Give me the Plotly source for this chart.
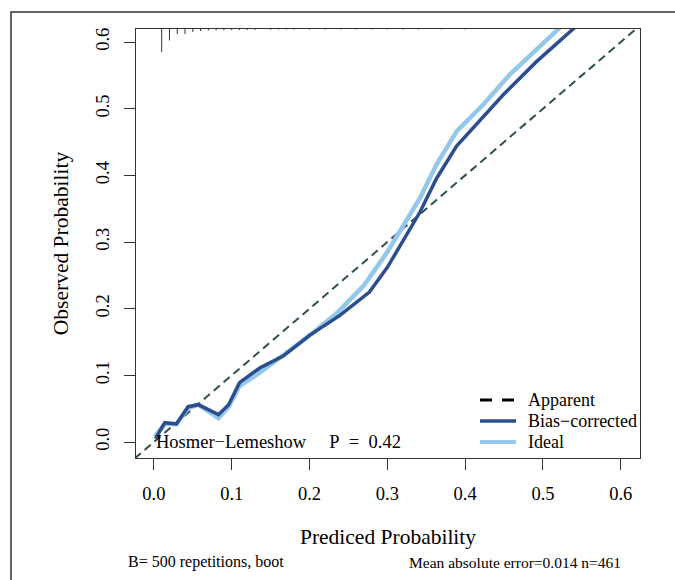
import plotly.graph_objects as go

# ---- data ----
ideal_x = [0.001, 0.014, 0.029, 0.044, 0.057, 0.083, 0.096, 0.11, 0.136, 0.166, 0.196, 0.235, 0.27, 0.30, 0.320, 0.342, 0.363, 0.389, 0.423, 0.458, 0.522, 0.55]
ideal_y = [0.008, 0.027, 0.027, 0.051, 0.056, 0.036, 0.053, 0.084, 0.104, 0.129, 0.156, 0.193, 0.235, 0.285, 0.325, 0.366, 0.416, 0.466, 0.506, 0.552, 0.622, 0.66]

bias_x = [0.002, 0.014, 0.029, 0.044, 0.057, 0.083, 0.096, 0.11, 0.136, 0.166, 0.2, 0.239, 0.277, 0.30, 0.342, 0.363, 0.389, 0.41, 0.449, 0.492, 0.541, 0.57]
bias_y = [0.005, 0.029, 0.027, 0.053, 0.056, 0.041, 0.056, 0.089, 0.111, 0.129, 0.160, 0.190, 0.225, 0.262, 0.345, 0.395, 0.444, 0.471, 0.521, 0.571, 0.622, 0.655]

diag = [-0.05, 0.7]

rug_x = [0.01, 0.02, 0.03, 0.04, 0.05, 0.06, 0.07, 0.08, 0.09, 0.10, 0.11, 0.12, 0.13, 0.15, 0.16, 0.17, 0.18, 0.20, 0.22, 0.24, 0.26, 0.28, 0.30, 0.32, 0.34, 0.37, 0.40]
rug_n = [140, 70, 32, 32, 18, 12, 9, 8, 8, 7, 6, 6, 6, 5, 4, 4, 4, 4, 4, 3, 3, 3, 3, 3, 3, 3, 3]

x_ticks = [0.0, 0.1, 0.2, 0.3, 0.4, 0.5, 0.6]
y_ticks = [0.0, 0.1, 0.2, 0.3, 0.4, 0.5, 0.6]
x_range = [-0.023, 0.6247]
y_range = [-0.024, 0.6196]

legend_labels = ["Apparent", "Bias\u2212corrected", "Ideal"]

FONT = "Liberation Serif"
DARK = "#2C4D8E"
LIGHT = "#93C8EA"
GREEN = "#2F4F4F"
AX = "#333333"
FS = 18.5

fig = go.Figure()

# diagonal
fig.add_trace(go.Scatter(x=diag, y=diag, mode="lines", showlegend=False,
                         line=dict(color=GREEN, width=2, dash="8px,5px"), hoverinfo="skip"))
# ideal (light)
fig.add_trace(go.Scatter(x=ideal_x, y=ideal_y, mode="lines", showlegend=False,
                         line=dict(color=LIGHT, width=4.5)))
# bias-corrected (dark)
fig.add_trace(go.Scatter(x=bias_x, y=bias_y, mode="lines", showlegend=False,
                         line=dict(color=DARK, width=3.5)))

# rug spikes at top
mx = max(rug_n)
max_h = 0.0343
rx, ry = [], []
for xv, n in zip(rug_x, rug_n):
    rx += [xv, xv, None]
    ry += [y_range[1], y_range[1] - max_h * n / mx, None]
fig.add_trace(go.Scatter(x=rx, y=ry, mode="lines", showlegend=False,
                         line=dict(color=AX, width=1), hoverinfo="skip"))

nb = "\u00a0"
fig.add_annotation(x=0.0, y=0.0, xref="x", yref="y", xanchor="left", yanchor="middle",
                   text="Hosmer\u2212Lemeshow" + nb * 5 + "P" + nb * 2 + "=" + nb * 2 + "0.42",
                   showarrow=False, font=dict(family=FONT, size=FS, color="black"))

fig.add_annotation(x=0.139, y=-0.2425, xref="paper", yref="paper", xanchor="center", yanchor="middle",
                   text="B= 500 repetitions, boot", showarrow=False,
                   font=dict(family=FONT, size=16, color="black"))
fig.add_annotation(x=0.751, y=-0.2425, xref="paper", yref="paper", xanchor="center", yanchor="middle",
                   text="Mean absolute error=0.014 n=461", showarrow=False,
                   font=dict(family=FONT, size=15.5, color="black"))

# manual legend
leg_styles = [dict(color="black", width=3, dash="12px,10px"),
              dict(color=DARK, width=3.5),
              dict(color=LIGHT, width=4)]
leg_y = [0.1352, 0.0862, 0.0373]
for lab, st, yy in zip(legend_labels, leg_styles, leg_y):
    fig.add_shape(type="line", xref="paper", yref="paper", x0=0.6825, x1=0.754, y0=yy, y1=yy, line=st)
    fig.add_annotation(x=0.7738, y=yy, xref="paper", yref="paper", xanchor="left", yanchor="middle",
                       text=lab, showarrow=False, font=dict(family=FONT, size=18, color="black"))

# outer frame
fig.add_shape(type="rect", xref="paper", yref="paper", x0=-0.248, y0=-0.6, x1=1.3, y1=1.0396,
              line=dict(color=AX, width=1.5), layer="below")

fig.update_layout(
    width=675, height=580,
    margin=dict(l=136, r=35, t=29, b=122),
    paper_bgcolor="white", plot_bgcolor="white",
    font=dict(family=FONT, size=FS, color="black"),
    showlegend=False,
    xaxis=dict(range=x_range, tickvals=x_ticks, ticktext=[f"{v:.1f}" for v in x_ticks],
               showgrid=False, zeroline=False, showline=True, linecolor=AX, linewidth=1,
               mirror=True, ticks="outside", ticklen=11, tickcolor=AX, tickwidth=1,
               ticklabelstandoff=8, tickfont=dict(family=FONT, size=FS),
               title=dict(text="Prediced Probability", font=dict(family=FONT, size=21.5), standoff=25)),
    yaxis=dict(range=y_range, tickvals=y_ticks, ticktext=[f"{v:.1f}" for v in y_ticks],
               showgrid=False, zeroline=False, showline=True, linecolor=AX, linewidth=1,
               mirror=True, ticks="outside", ticklen=11, tickcolor=AX, tickwidth=1,
               tickangle=-90, ticklabelstandoff=8, tickfont=dict(family=FONT, size=FS),
               title=dict(text="Observed Probability", font=dict(family=FONT, size=21.5), standoff=18)),
)

fig.write_html("out.html")
